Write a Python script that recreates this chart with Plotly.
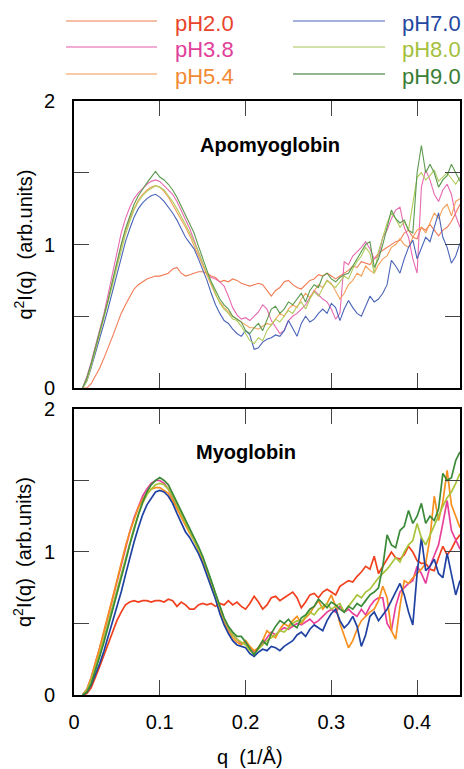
import plotly.graph_objects as go

# ---------------- data ----------------
q = [0.010, 0.015, 0.020, 0.025, 0.030, 0.035, 0.040, 0.045, 0.050, 0.055,
     0.060, 0.065, 0.070, 0.075, 0.080, 0.085, 0.090, 0.095, 0.100, 0.105,
     0.110, 0.115, 0.120, 0.125, 0.130, 0.135, 0.140, 0.145, 0.150, 0.155,
     0.160, 0.165, 0.170, 0.175, 0.180, 0.185, 0.190, 0.195, 0.200, 0.205,
     0.210, 0.215, 0.220, 0.225, 0.230, 0.235, 0.240, 0.245, 0.250, 0.255,
     0.260, 0.265, 0.270, 0.275, 0.280, 0.285, 0.290, 0.295, 0.300, 0.305,
     0.310, 0.315, 0.320, 0.325, 0.330, 0.335, 0.340, 0.345, 0.350, 0.355,
     0.360, 0.365, 0.370, 0.375, 0.380, 0.385, 0.390, 0.395, 0.400, 0.405,
     0.410, 0.415, 0.420, 0.425, 0.430, 0.435, 0.440, 0.445, 0.450]

series_names = ["pH2.0", "pH3.8", "pH5.4", "pH7.0", "pH8.0", "pH9.0"]

# Apomyoglobin (top panel)
apo_pH20 = [0.00, 0.00, 0.03, 0.08, 0.14, 0.21, 0.28, 0.36, 0.44, 0.52,
            0.58, 0.64, 0.69, 0.72, 0.74, 0.76, 0.77, 0.78, 0.78, 0.79,
            0.80, 0.83, 0.84, 0.80, 0.78, 0.79, 0.80, 0.81, 0.81, 0.80,
            0.78, 0.77, 0.74, 0.75, 0.74, 0.76, 0.75, 0.73, 0.72, 0.71,
            0.72, 0.73, 0.72, 0.68, 0.64, 0.68, 0.70, 0.74, 0.75, 0.72,
            0.70, 0.69, 0.72, 0.75, 0.76, 0.79, 0.78, 0.80, 0.78, 0.76,
            0.78, 0.80, 0.82, 0.85, 0.84, 0.88, 0.87, 0.86, 0.90, 0.94,
            0.96, 0.98, 1.00, 1.02, 1.03, 1.08, 1.10, 1.05, 1.04, 1.12,
            1.10, 1.14, 1.10, 1.06, 1.10, 1.12, 1.16, 1.22, 1.28]
apo_pH38 = [0.00, 0.08, 0.18, 0.29, 0.40, 0.52, 0.66, 0.80, 0.95, 1.08,
            1.18, 1.26, 1.32, 1.36, 1.39, 1.42, 1.44, 1.45, 1.44, 1.41,
            1.38, 1.35, 1.30, 1.24, 1.18, 1.11, 1.03, 0.95, 0.86, 0.79,
            0.77, 0.76, 0.74, 0.71, 0.64, 0.56, 0.51, 0.48, 0.49, 0.47,
            0.50, 0.53, 0.58, 0.55, 0.47, 0.42, 0.38, 0.40, 0.47, 0.50,
            0.52, 0.55, 0.58, 0.63, 0.68, 0.65, 0.62, 0.60, 0.55, 0.48,
            0.52, 0.88, 0.86, 0.92, 0.95, 0.98, 1.02, 0.97, 0.90, 0.92,
            1.05, 1.10, 1.18, 1.24, 1.26, 1.12, 1.05, 0.90, 0.80, 1.40,
            1.52, 1.45, 1.35, 1.30, 1.38, 1.42, 1.35, 1.20, 1.12]
apo_pH54 = [0.00, 0.05, 0.15, 0.26, 0.38, 0.50, 0.62, 0.75, 0.87, 0.99,
            1.09, 1.18, 1.25, 1.31, 1.35, 1.38, 1.40, 1.41, 1.40, 1.37,
            1.33, 1.28, 1.23, 1.18, 1.12, 1.06, 0.99, 0.92, 0.85, 0.78,
            0.71, 0.65, 0.60, 0.56, 0.53, 0.50, 0.48, 0.46, 0.44, 0.42,
            0.42, 0.41, 0.43, 0.45, 0.44, 0.48, 0.52, 0.50, 0.55, 0.58,
            0.56, 0.62, 0.66, 0.63, 0.68, 0.72, 0.70, 0.75, 0.73, 0.68,
            0.62, 0.66, 0.72, 0.75, 0.80, 0.78, 0.85, 0.82, 0.80, 0.86,
            0.90, 0.92, 0.98, 1.00, 1.04, 1.00, 0.98, 1.05, 1.10, 1.12,
            1.08, 1.15, 1.22, 1.18, 1.25, 1.28, 1.20, 1.30, 1.32]
apo_pH70 = [0.00, 0.05, 0.14, 0.24, 0.34, 0.45, 0.56, 0.68, 0.80, 0.92,
            1.02, 1.11, 1.19, 1.25, 1.29, 1.32, 1.34, 1.35, 1.33, 1.30,
            1.26, 1.22, 1.17, 1.11, 1.05, 1.01, 0.97, 0.90, 0.83, 0.75,
            0.66, 0.58, 0.52, 0.47, 0.45, 0.41, 0.38, 0.36, 0.40, 0.37,
            0.27, 0.28, 0.32, 0.34, 0.35, 0.37, 0.36, 0.40, 0.47, 0.42,
            0.36, 0.45, 0.50, 0.46, 0.48, 0.52, 0.55, 0.52, 0.59, 0.56,
            0.47, 0.55, 0.61, 0.56, 0.52, 0.50, 0.57, 0.64, 0.60, 0.62,
            0.66, 0.72, 0.89, 0.85, 0.80, 0.90, 0.98, 1.03, 0.90, 0.98,
            1.05, 1.02, 1.12, 1.22, 1.05, 0.98, 0.87, 0.92, 1.01]
apo_pH80 = [0.00, 0.05, 0.15, 0.26, 0.37, 0.48, 0.60, 0.72, 0.84, 0.96,
            1.07, 1.16, 1.24, 1.30, 1.34, 1.37, 1.39, 1.41, 1.40, 1.38,
            1.34, 1.30, 1.25, 1.20, 1.14, 1.08, 1.02, 0.95, 0.87, 0.80,
            0.72, 0.65, 0.59, 0.55, 0.52, 0.48, 0.47, 0.43, 0.38, 0.33,
            0.31, 0.35, 0.33, 0.40, 0.44, 0.48, 0.46, 0.50, 0.54, 0.52,
            0.57, 0.60, 0.55, 0.62, 0.67, 0.64, 0.70, 0.75, 0.72, 0.70,
            0.74, 0.78, 0.76, 0.83, 0.88, 0.92, 0.98, 0.94, 0.80, 0.95,
            1.05, 1.15, 1.22, 1.18, 1.12, 1.16, 1.10, 1.30, 1.47, 1.50,
            1.45, 1.48, 1.52, 1.44, 1.47, 1.50, 1.46, 1.42, 1.47]
apo_pH90 = [0.00, 0.07, 0.17, 0.28, 0.39, 0.50, 0.62, 0.75, 0.88, 1.00,
            1.11, 1.20, 1.28, 1.34, 1.39, 1.43, 1.47, 1.51, 1.47, 1.45,
            1.42, 1.38, 1.33, 1.27, 1.21, 1.15, 1.08, 0.99, 0.90, 0.82,
            0.74, 0.68, 0.62, 0.58, 0.55, 0.50, 0.48, 0.46, 0.40, 0.38,
            0.42, 0.45, 0.40, 0.47, 0.55, 0.57, 0.52, 0.55, 0.60, 0.58,
            0.62, 0.66, 0.60, 0.68, 0.72, 0.70, 0.78, 0.80, 0.76, 0.74,
            0.77, 0.79, 0.80, 0.85, 0.91, 0.95, 1.00, 1.02, 0.84, 0.90,
            1.00, 1.12, 1.24, 1.18, 1.15, 1.17, 1.10, 1.08, 1.50, 1.69,
            1.50, 1.56, 1.50, 1.40, 1.45, 1.48, 1.56, 1.50, 1.44]

# Myoglobin (bottom panel)
myo_pH20 = [0.00, 0.01, 0.05, 0.12, 0.20, 0.28, 0.36, 0.44, 0.52, 0.58,
            0.63, 0.65, 0.66, 0.65, 0.66, 0.66, 0.65, 0.66, 0.66, 0.65,
            0.67, 0.66, 0.62, 0.65, 0.63, 0.60, 0.60, 0.63, 0.64, 0.63,
            0.64, 0.62, 0.64, 0.63, 0.66, 0.63, 0.65, 0.62, 0.60, 0.64,
            0.69, 0.65, 0.60, 0.63, 0.68, 0.69, 0.66, 0.68, 0.70, 0.72,
            0.68, 0.61, 0.65, 0.70, 0.71, 0.68, 0.72, 0.74, 0.72, 0.70,
            0.76, 0.78, 0.80, 0.79, 0.83, 0.86, 0.90, 0.88, 0.97, 0.85,
            0.90, 0.96, 1.00, 0.96, 0.95, 0.98, 1.04, 1.00, 0.94, 0.92,
            0.92, 0.88, 0.87, 0.96, 1.04, 0.98, 1.02, 1.08, 1.12]
myo_pH38 = [0.00, 0.04, 0.12, 0.22, 0.33, 0.44, 0.56, 0.68, 0.80, 0.92,
            1.03, 1.14, 1.24, 1.32, 1.39, 1.44, 1.48, 1.50, 1.50, 1.48,
            1.44, 1.38, 1.31, 1.25, 1.19, 1.14, 1.09, 1.02, 0.95, 0.87,
            0.78, 0.69, 0.60, 0.52, 0.46, 0.42, 0.39, 0.36, 0.37, 0.32,
            0.30, 0.33, 0.36, 0.40, 0.44, 0.42, 0.45, 0.47, 0.46, 0.48,
            0.50, 0.49, 0.51, 0.53, 0.50, 0.52, 0.55, 0.58, 0.60, 0.58,
            0.62, 0.58, 0.60, 0.57, 0.55, 0.60, 0.56, 0.62, 0.66, 0.68,
            0.68, 0.50, 0.45, 0.62, 0.72, 0.75, 0.78, 0.80, 0.90, 0.85,
            0.78, 0.90, 0.98, 1.05, 1.20, 1.36, 1.15, 1.08, 1.02]
myo_pH54 = [0.00, 0.04, 0.12, 0.22, 0.33, 0.45, 0.56, 0.68, 0.80, 0.93,
            1.04, 1.14, 1.23, 1.31, 1.37, 1.41, 1.44, 1.45, 1.45, 1.43,
            1.41, 1.36, 1.30, 1.24, 1.18, 1.13, 1.08, 1.02, 0.95, 0.87,
            0.78, 0.69, 0.60, 0.50, 0.44, 0.40, 0.37, 0.35, 0.38, 0.34,
            0.31, 0.33, 0.38, 0.45, 0.42, 0.40, 0.46, 0.50, 0.48, 0.52,
            0.55, 0.50, 0.54, 0.57, 0.62, 0.66, 0.60, 0.64, 0.70, 0.62,
            0.50, 0.42, 0.33, 0.38, 0.46, 0.52, 0.55, 0.58, 0.60, 0.66,
            0.76, 0.68, 0.45, 0.39, 0.62, 0.80, 0.78, 0.82, 0.85, 0.88,
            0.92, 1.10, 1.39, 1.22, 1.35, 1.57, 1.33, 1.25, 1.17]
myo_pH70 = [0.00, 0.02, 0.07, 0.14, 0.22, 0.31, 0.41, 0.51, 0.61, 0.72,
            0.84, 0.96, 1.07, 1.17, 1.26, 1.33, 1.38, 1.42, 1.43, 1.42,
            1.39, 1.34, 1.27, 1.20, 1.14, 1.10, 1.05, 0.99, 0.92, 0.84,
            0.76, 0.67, 0.57, 0.49, 0.43, 0.38, 0.35, 0.34, 0.33, 0.29,
            0.27, 0.30, 0.32, 0.31, 0.34, 0.33, 0.31, 0.34, 0.36, 0.38,
            0.42, 0.44, 0.41, 0.46, 0.49, 0.47, 0.45, 0.52, 0.57, 0.60,
            0.52, 0.47, 0.50, 0.55, 0.48, 0.34, 0.42, 0.55, 0.58, 0.52,
            0.56, 0.60, 0.66, 0.72, 0.78, 0.70, 0.58, 0.49, 0.85, 1.10,
            0.87, 0.90, 0.95, 0.85, 0.82, 0.99, 0.85, 0.70, 0.80]
myo_pH80 = [0.00, 0.03, 0.10, 0.19, 0.29, 0.40, 0.51, 0.62, 0.73, 0.84,
            0.96, 1.07, 1.17, 1.26, 1.34, 1.40, 1.44, 1.47, 1.48, 1.47,
            1.44, 1.39, 1.33, 1.26, 1.20, 1.14, 1.09, 1.03, 0.96, 0.88,
            0.79, 0.70, 0.61, 0.53, 0.47, 0.42, 0.39, 0.37, 0.35, 0.31,
            0.29, 0.32, 0.35, 0.38, 0.40, 0.42, 0.45, 0.44, 0.47, 0.50,
            0.52, 0.51, 0.55, 0.58, 0.56, 0.60, 0.62, 0.64, 0.60, 0.62,
            0.64, 0.58, 0.62, 0.66, 0.70, 0.68, 0.72, 0.74, 0.78, 0.82,
            0.85, 0.88, 0.92, 0.96, 0.93, 1.00, 1.05, 1.08, 1.20, 1.10,
            1.05, 1.12, 1.18, 1.26, 1.32, 1.38, 1.42, 1.48, 1.55]
myo_pH90 = [0.00, 0.02, 0.08, 0.17, 0.27, 0.37, 0.48, 0.59, 0.70, 0.81,
            0.93, 1.05, 1.16, 1.26, 1.35, 1.42, 1.47, 1.50, 1.52, 1.50,
            1.47, 1.41, 1.35, 1.28, 1.22, 1.16, 1.10, 1.04, 0.97, 0.89,
            0.80, 0.71, 0.62, 0.54, 0.48, 0.44, 0.41, 0.41, 0.37, 0.32,
            0.28, 0.33, 0.38, 0.35, 0.43, 0.48, 0.52, 0.50, 0.53, 0.49,
            0.47, 0.54, 0.56, 0.60, 0.62, 0.67, 0.64, 0.61, 0.65, 0.63,
            0.60, 0.58, 0.62, 0.60, 0.64, 0.62, 0.66, 0.70, 0.72, 0.75,
            0.90, 1.12, 1.05, 1.03, 1.15, 1.18, 1.29, 1.20, 1.25, 1.34,
            1.20, 1.25, 1.22, 1.30, 1.55, 1.50, 1.52, 1.64, 1.70]

apo_series = [apo_pH20, apo_pH38, apo_pH54, apo_pH70, apo_pH80, apo_pH90]
myo_series = [myo_pH20, myo_pH38, myo_pH54, myo_pH70, myo_pH80, myo_pH90]
for s in apo_series + myo_series:
    assert len(s) == len(q), len(s)

x_tickvals = [0, 0.1, 0.2, 0.3, 0.4]
x_ticktext = ["0", "0.1", "0.2", "0.3", "0.4"]
y_tickvals = [0, 1, 2]
y_ticktext = ["0", "1", "2"]

# ---------------- style ----------------
FONT = "Liberation Sans, Arial, Helvetica, sans-serif"
text_colors = ["#e8452c", "#e0409a", "#f28a35", "#2448a0", "#a3bf3c", "#3a7d35"]
top_colors = ["#f27a55", "#e86ab0", "#f5a05a", "#4a64b8", "#b0cc5c", "#5a9a4e"]
bot_colors = ["#f0401e", "#e8409a", "#f7901e", "#1f42a2", "#a8c43a", "#3a8a38"]
legend_line_colors = ["#f5a888", "#ee90c4", "#f7b888", "#8496cc", "#c4d88c", "#6e9e68"]

fig = go.Figure()
for name, ys, c in zip(series_names, apo_series, top_colors):
    fig.add_trace(go.Scatter(x=q, y=ys, mode="lines", name=name, showlegend=False,
                             line=dict(color=c, width=1.1), xaxis="x", yaxis="y"))
for name, ys, c in zip(series_names, myo_series, bot_colors):
    fig.add_trace(go.Scatter(x=q, y=ys, mode="lines", name=name, showlegend=False,
                             line=dict(color=c, width=1.7), xaxis="x2", yaxis="y2"))

axis_common = dict(showgrid=False, zeroline=False, showline=True, linecolor="black",
                   linewidth=2, mirror="ticks", ticks="inside", ticklen=15, tickwidth=1,
                   tickcolor="#444", automargin=False,
                   tickfont=dict(family=FONT, size=20, color="black"))
y_minor = dict(tickvals=[0.5, 1.5], ticks="inside", ticklen=15, tickwidth=1,
               tickcolor="#444", showgrid=False)

fig.update_layout(
    width=464, height=769,
    margin=dict(l=74, r=4, t=101, b=74),
    paper_bgcolor="white", plot_bgcolor="white",
    font=dict(family=FONT, color="black"),
    xaxis=dict(domain=[0, 1], anchor="y", range=[0, 0.45], tickvals=x_tickvals,
               ticktext=x_ticktext, showticklabels=False, **axis_common),
    yaxis=dict(domain=[0.5168, 1], anchor="x", range=[0, 2], tickvals=y_tickvals,
               ticktext=y_ticktext, ticklabelstandoff=13, minor=y_minor, **axis_common),
    xaxis2=dict(domain=[0, 1], anchor="y2", range=[0, 0.45], tickvals=x_tickvals,
                ticktext=x_ticktext, ticklabelstandoff=8, **axis_common),
    yaxis2=dict(domain=[0, 0.4815], anchor="x2", range=[0, 2], tickvals=y_tickvals,
                ticktext=y_ticktext, ticklabelstandoff=13, minor=y_minor, **axis_common),
)

annotations = []
# panel labels
annotations.append(dict(text="<b>Apomyoglobin</b>", x=0.2285, y=1.69, xref="x", yref="y",
                        xanchor="center", yanchor="middle",
                        showarrow=False, font=dict(family=FONT, size=20, color="black")))
annotations.append(dict(text="<b>Myoglobin</b>", x=0.2005, y=1.70, xref="x2", yref="y2",
                        xanchor="center", yanchor="middle",
                        showarrow=False, font=dict(family=FONT, size=20, color="black")))
# y titles
ytitle = "q<sup>2</sup>I(q) &nbsp;(arb.units)"
annotations.append(dict(text=ytitle, textangle=-90, x=-0.132, y=(1 + 0.5168) / 2,
                        xref="paper", yref="paper", xanchor="center", yanchor="middle",
                        showarrow=False, font=dict(family=FONT, size=20, color="black")))
annotations.append(dict(text=ytitle, textangle=-90, x=-0.132, y=0.4815 / 2,
                        xref="paper", yref="paper", xanchor="center", yanchor="middle",
                        showarrow=False, font=dict(family=FONT, size=20, color="black")))
# x title
annotations.append(dict(text="q &nbsp;(1/Å)", x=0.456, y=-0.104, xref="paper", yref="paper",
                        xanchor="center", yanchor="middle",
                        showarrow=False, font=dict(family=FONT, size=20, color="black")))

# custom legend (two columns of three)
shapes = []
row_y = [1.1347, 1.0909, 1.0455]
col_line = [(-0.0207, 0.2150), (0.5674, 0.8057)]
col_text = [0.2565, 0.8446]
for i, name in enumerate(series_names):
    col, row = divmod(i, 3)
    x0, x1 = col_line[col]
    shapes.append(dict(type="line", xref="paper", yref="paper", x0=x0, x1=x1,
                       y0=row_y[row], y1=row_y[row],
                       line=dict(color=legend_line_colors[i], width=1.5)))
    annotations.append(dict(text=name, x=col_text[col], y=row_y[row] - 0.004,
                            xref="paper", yref="paper", xanchor="left", yanchor="middle",
                            showarrow=False,
                            font=dict(family=FONT, size=22, color=text_colors[i])))

fig.update_layout(annotations=annotations, shapes=shapes)
fig.write_html("out.html", config={"displayModeBar": False},
               post_script="document.body.style.margin='0';document.body.style.overflow='hidden';")
